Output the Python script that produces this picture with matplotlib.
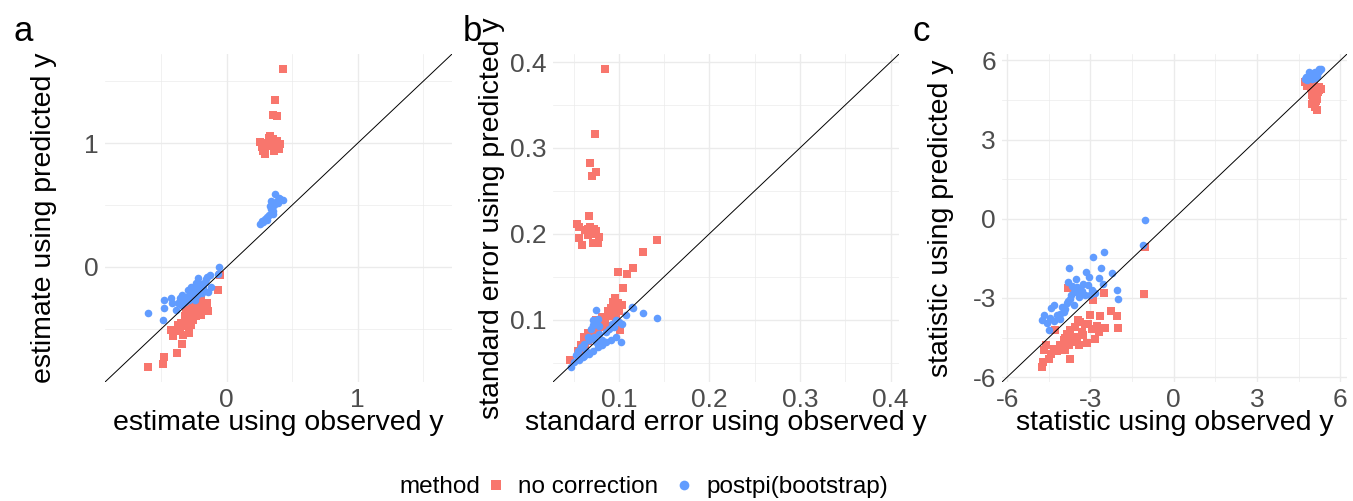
import numpy as np
import matplotlib
matplotlib.use("Agg")
import matplotlib.pyplot as plt
from matplotlib.lines import Line2D
from matplotlib.ticker import MultipleLocator

plt.rcParams["font.family"] = ["Liberation Sans", "DejaVu Sans"]

RED = "#F8766D"
BLUE = "#619CFF"
GRID = "#EBEBEB"

METHODS = ["no correction", "postpi(bootstrap)"]

# ---- panel a: estimates ---------------------------------------------------
est_obs_nc = [0.43, 0.37, 0.35, 0.38, 0.254, 0.28, 0.29, 0.33, 0.35, 0.39,
              0.41, 0.37, 0.305, 0.335, 0.38, 0.36, 0.27, 0.34, 0.32, 0.40,
              -0.605, -0.49, -0.477, -0.38, -0.34, -0.425, -0.41, -0.375, -0.367, -0.336,
              -0.285, -0.323, -0.30, -0.27, -0.246, -0.22, -0.195, -0.21, -0.26, -0.233,
              -0.18, -0.15, -0.15, -0.067, -0.054, -0.27, -0.30, -0.35, -0.31, -0.285,
              -0.233, -0.195, -0.246, -0.22, -0.26, -0.29, -0.32, -0.24, -0.20, -0.17,
              -0.28, -0.36, -0.144]
est_pred_nc = [1.60, 1.35, 1.23, 1.22, 1.01, 0.94, 0.91, 1.06, 1.03, 0.98,
               0.99, 0.96, 1.00, 1.01, 1.02, 0.94, 0.97, 0.98, 1.04, 0.95,
               -0.81, -0.785, -0.73, -0.70, -0.62, -0.51, -0.56, -0.47, -0.50, -0.55,
               -0.535, -0.44, -0.40, -0.36, -0.32, -0.29, -0.27, -0.35, -0.43, -0.40,
               -0.33, -0.355, -0.29, -0.185, -0.065, -0.47, -0.48, -0.45, -0.36, -0.39,
               -0.36, -0.39, -0.24, -0.26, -0.30, -0.33, -0.40, -0.37, -0.31, -0.30,
               -0.42, -0.52, -0.36]
est_obs_pp = [0.37, 0.34, 0.41, 0.43, 0.33, 0.356, 0.32, 0.29, 0.254, 0.28,
              0.38, 0.335, 0.305, 0.36, 0.27, 0.39, 0.35, 0.31, 0.40, 0.345,
              -0.60, -0.49, -0.477, -0.477, -0.42, -0.39, -0.425, -0.36, -0.34, -0.323,
              -0.30, -0.27, -0.26, -0.233, -0.22, -0.195, -0.17, -0.15, -0.13, -0.144,
              -0.118, -0.06, -0.067, -0.31, -0.285, -0.246, -0.21, -0.18, -0.35, -0.375,
              -0.28, -0.25, -0.20, -0.23, -0.16, -0.33, -0.24, -0.19]
est_pred_pp = [0.586, 0.53, 0.55, 0.54, 0.49, 0.45, 0.42, 0.39, 0.35, 0.365,
               0.53, 0.47, 0.38, 0.50, 0.37, 0.52, 0.43, 0.40, 0.56, 0.48,
               -0.37, -0.43, -0.33, -0.27, -0.29, -0.35, -0.25, -0.25, -0.225, -0.28,
               -0.185, -0.16, -0.21, -0.13, -0.09, -0.16, -0.12, -0.08, -0.065, -0.20,
               -0.16, 0.0, -0.056, -0.24, -0.27, -0.27, -0.20, -0.17, -0.31, -0.29,
               -0.22, -0.19, -0.14, -0.23, -0.10, -0.26, -0.17, -0.21]

# ---- panel b: standard errors ---------------------------------------------
se_obs_nc = [0.0846, 0.0739, 0.0687, 0.0743, 0.070, 0.0672, 0.0537, 0.0562, 0.059, 0.0655,
             0.068, 0.071, 0.0723, 0.072, 0.0765, 0.0783, 0.0625, 0.056, 0.066, 0.0745,
             0.1427, 0.1265, 0.116, 0.1088, 0.0986, 0.1048, 0.0956, 0.0986, 0.103, 0.091,
             0.0893, 0.093, 0.0967, 0.1015, 0.0857, 0.080, 0.0765, 0.071, 0.0655, 0.0618,
             0.058, 0.0545, 0.046, 0.0746, 0.082, 0.088, 0.094, 0.069, 0.063, 0.085,
             0.078, 0.066, 0.072, 0.090, 0.060, 0.100]
se_pred_nc = [0.392, 0.316, 0.282, 0.272, 0.267, 0.221, 0.211, 0.195, 0.187, 0.206,
              0.208, 0.200, 0.206, 0.189, 0.189, 0.196, 0.204, 0.208, 0.199, 0.203,
              0.193, 0.179, 0.160, 0.153, 0.156, 0.137, 0.125, 0.119, 0.117, 0.113,
              0.109, 0.106, 0.101, 0.088, 0.093, 0.091, 0.0875, 0.0855, 0.0844, 0.080,
              0.070, 0.064, 0.0533, 0.099, 0.103, 0.110, 0.121, 0.078, 0.072, 0.098,
              0.095, 0.075, 0.083, 0.104, 0.066, 0.110]
se_obs_pp = [0.1427, 0.1268, 0.1158, 0.1077, 0.102, 0.0967, 0.091, 0.0857, 0.082, 0.0765,
             0.071, 0.0673, 0.0618, 0.0562, 0.0507, 0.047, 0.0746, 0.071, 0.0728, 0.0765,
             0.078, 0.069, 0.0655, 0.067, 0.062, 0.058, 0.0545, 0.073, 0.078, 0.0857,
             0.0893, 0.093, 0.0967, 0.082, 0.0746, 0.0636, 0.060, 0.0526, 0.115, 0.104,
             0.095, 0.100, 0.071, 0.0746]
se_pred_pp = [0.102, 0.1078, 0.1136, 0.105, 0.0738, 0.0797, 0.0758, 0.0738, 0.070, 0.068,
              0.064, 0.060, 0.058, 0.0525, 0.0505, 0.0447, 0.111, 0.099, 0.095, 0.101,
              0.093, 0.0895, 0.080, 0.076, 0.072, 0.068, 0.064, 0.080, 0.0837, 0.0855,
              0.0895, 0.0953, 0.099, 0.076, 0.074, 0.064, 0.0564, 0.0583, 0.1147, 0.0953,
              0.0914, 0.097, 0.094, 0.097]

# ---- panel c: test statistics ---------------------------------------------
stat_obs_nc = [4.72, 5.29, 5.15, 5.15, 5.00, 4.98, 4.93, 5.05, 5.10, 5.20,
               4.85, 5.12, 5.08, 5.18, 4.95, 5.22, 5.02, 4.80, 5.10, 5.25,
               -1.05, -1.08, -3.80, -2.50, -2.91, -2.26, -2.65, -2.04, -3.01, -2.48,
               -2.00, -2.83, -3.13, -3.43, -2.95, -3.19, -3.37, -3.54, -3.72, -3.84,
               -3.60, -3.96, -3.78, -3.90, -3.72, -4.08, -4.26, -4.32, -4.43, -4.61,
               -4.67, -4.49, -4.70, -4.73, -3.30, -3.50, -3.10, -3.25, -3.65, -4.00,
               -2.75, -3.45, -4.20, -3.90, -2.70]
stat_pred_nc = [5.18, 4.93, 4.55, 4.13, 4.36, 4.70, 4.94, 5.05, 4.85, 4.80,
                5.10, 4.45, 4.25, 4.65, 5.00, 4.98, 4.60, 5.05, 5.00, 4.88,
                -1.07, -2.84, -2.61, -2.80, -3.07, -3.51, -3.70, -3.70, -3.66, -4.14,
                -4.14, -4.55, -4.71, -4.80, -4.17, -3.98, -3.92, -4.11, -4.23, -4.36,
                -4.49, -4.61, -4.80, -4.99, -5.30, -4.80, -4.23, -4.92, -5.11, -4.80,
                -4.99, -5.30, -5.43, -5.62, -4.30, -4.50, -4.00, -4.40, -4.65, -4.90,
                -4.05, -3.85, -5.00, -4.50, -4.30]
stat_obs_pp = [4.72, 5.29, 4.76, 4.88, 5.24, 4.95, 5.05, 5.15, 5.00, 5.10,
               4.85, 5.20, 4.92, 5.08, 5.18, 4.80, 5.02, 5.25, 4.98, 5.12,
               -1.09, -1.05, -2.50, -2.91, -3.78, -3.16, -2.62, -2.24, -3.51, -3.04,
               -2.69, -3.80, -3.25, -2.54, -3.37, -3.60, -2.95, -2.06, -2.00, -3.19,
               -3.43, -3.72, -3.86, -4.32, -4.41, -4.02, -3.60, -3.96, -4.20, -4.67,
               -4.46, -4.73, -4.55, -4.32, -4.49, -4.08, -3.80, -3.50, -3.40, -3.65,
               -3.10, -2.85, -3.30, -3.00, -3.70, -3.90, -4.10]
stat_pred_pp = [5.28, 5.66, 5.37, 5.56, 5.68, 5.40, 5.45, 5.50, 5.30, 5.35,
                5.32, 5.55, 5.48, 5.58, 5.42, 5.25, 5.52, 5.60, 5.36, 5.47,
                -1.01, -0.06, -1.26, -1.45, -1.86, -2.00, -1.87, -2.06, -2.27, -2.21,
                -2.25, -2.40, -2.46, -2.46, -2.65, -2.78, -2.69, -2.69, -3.03, -2.90,
                -2.97, -3.03, -3.20, -3.28, -3.37, -3.35, -3.28, -3.54, -3.66, -3.66,
                -3.75, -3.85, -3.95, -3.88, -4.23, -3.79, -3.10, -2.60, -2.80, -2.55,
                -2.50, -2.80, -2.75, -2.90, -2.90, -3.40, -3.60]

PANELS = [
    ("a", "estimate", (est_obs_nc, est_pred_nc), (est_obs_pp, est_pred_pp), 1.0, 0.5),
    ("b", "standard error", (se_obs_nc, se_pred_nc), (se_obs_pp, se_pred_pp), 0.1, 0.05),
    ("c", "statistic", (stat_obs_nc, stat_pred_nc), (stat_obs_pp, stat_pred_pp), 3.0, 1.5),
]
RECTS = [
    [0.0776, 0.2375, 0.2565, 0.6547],
    [0.4087, 0.2375, 0.2558, 0.6547],
    [0.7406, 0.2375, 0.2550, 0.6547],
]
LETTER_X = [13, 463, 912]


def fmt(v, step):
    if step < 1:
        return f"{v:.1f}"
    return f"{v:.0f}"


fig = plt.figure(figsize=(13.53, 5.01), dpi=100)
for (letter, what, nc, pp, major, minor), rect, lx in zip(PANELS, RECTS, LETTER_X):
    ax = fig.add_axes(rect)
    allv = np.concatenate([nc[0], nc[1], pp[0], pp[1]])
    lo, hi = allv.min(), allv.max()
    pad = 0.05 * (hi - lo)
    lims = (lo - pad, hi + pad)

    ax.scatter(nc[0], nc[1], marker="s", s=26, color=RED, linewidths=0, zorder=3)
    ax.scatter(pp[0], pp[1], marker="o", s=30, color=BLUE, linewidths=0, zorder=3)
    ax.axline((0, 0), slope=1, color="black", lw=0.7, zorder=4)

    ax.set_xlim(lims)
    ax.set_ylim(lims)
    for axis in (ax.xaxis, ax.yaxis):
        axis.set_major_locator(MultipleLocator(major))
        axis.set_minor_locator(MultipleLocator(minor))
        axis.set_major_formatter(plt.FuncFormatter(lambda v, p, st=major: fmt(v, st)))
    ax.grid(True, which="major", color=GRID, lw=1.0, zorder=0)
    ax.grid(True, which="minor", color=GRID, lw=0.5, zorder=0)
    ax.set_axisbelow(True)
    for sp in ax.spines.values():
        sp.set_visible(False)
    ax.tick_params(which="both", length=0, labelsize=19, labelcolor="#4D4D4D", pad=4.5)

    ax.set_xlabel(f"{what} using observed y", fontsize=20.5)
    ax.set_ylabel(f"{what} using predicted y", fontsize=20.5)
    ax.xaxis.set_label_coords(0.5, -0.085)
    ax.yaxis.set_label_coords(-0.139, 0.5)

    fig.text(lx / 1353, 1 - 41 / 501, letter, fontsize=25, va="baseline", ha="left")

handles = [
    Line2D([], [], marker="s", ls="", color=RED, markersize=6.5, markeredgewidth=0),
    Line2D([], [], marker="o", ls="", color=BLUE, markersize=7, markeredgewidth=0),
]
fig.text(480 / 1353, 1 - 487 / 501, "method", fontsize=17.5, ha="right", va="center")
fig.legend(handles, METHODS, ncol=2, loc="center left",
           bbox_to_anchor=(486 / 1353, 1 - 487 / 501), frameon=False,
           fontsize=17.5, handlelength=0.8, handletextpad=0.5, columnspacing=0.7,
           borderaxespad=0, borderpad=0)

fig.savefig("out.png", dpi=100)
